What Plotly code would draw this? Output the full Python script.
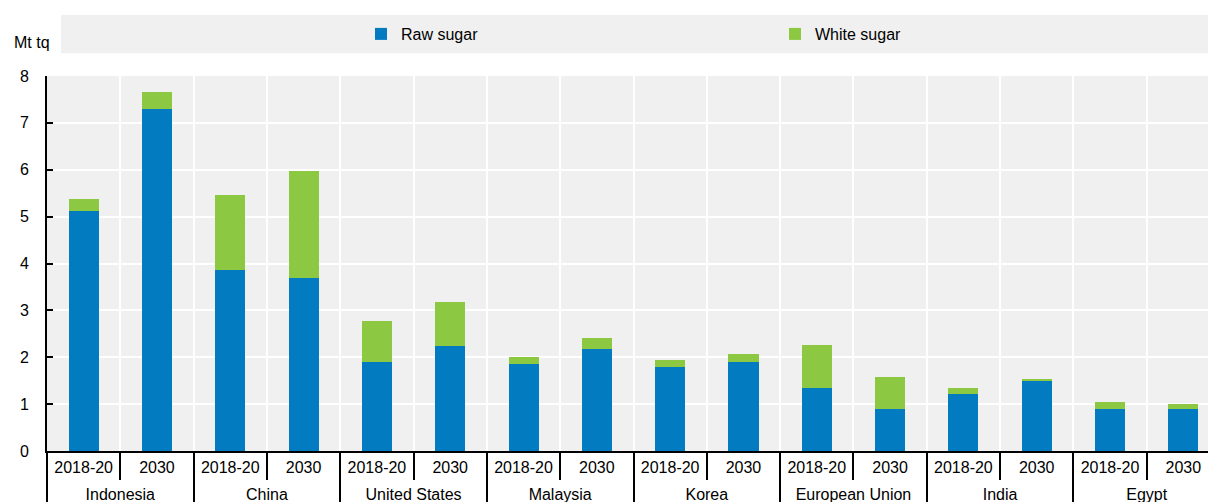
import plotly.graph_objects as go

countries = ["Indonesia", "China", "United States", "Malaysia", "Korea",
             "European Union", "India", "Egypt"]
periods = ["2018-20", "2030"]
raw_sugar = [5.12, 7.29, 3.86, 3.69, 1.90, 2.24, 1.85, 2.17,
             1.79, 1.90, 1.34, 0.90, 1.22, 1.51, 0.90, 0.90]
white_sugar = [0.25, 0.36, 1.60, 2.28, 0.87, 0.94, 0.15, 0.24,
               0.15, 0.17, 0.92, 0.68, 0.12, 0.01, 0.14, 0.10]

n_per = len(periods)
slots = list(range(len(raw_sugar)))
slot_labels = [p for _ in countries for p in periods]
country_mid = [i * n_per + (n_per - 1) / 2 for i in range(len(countries))]
x_range = [-0.5, len(slots) - 0.5]

BLUE = "#037BC1"
GREEN = "#8CC841"
FONT = "Liberation Sans, Arial, sans-serif"

fig = go.Figure()
fig.add_trace(go.Bar(x=slots, y=raw_sugar, name="Raw sugar",
                     marker=dict(color=BLUE, line=dict(width=0)), width=0.41))
fig.add_trace(go.Bar(x=slots, y=white_sugar, name="White sugar",
                     marker=dict(color=GREEN, line=dict(width=0)), width=0.41))
# empty trace so the country axis (x2) gets drawn
fig.add_trace(go.Scatter(x=[], y=[], xaxis="x2", yaxis="y",
                         showlegend=False, hoverinfo="skip"))

# the source chart runs a little past the right edge of the window
fig.update_layout(
    barmode="stack",
    width=1220,
    height=502,
    margin=dict(l=47, r=0, t=76, b=51, autoexpand=False),
    paper_bgcolor="white",
    plot_bgcolor="#F0F0F0",
    font=dict(family=FONT, size=16, color="black"),
    showlegend=True,
    legend=dict(
        orientation="h",
        x=0.2677, y=1.112, xanchor="left", yanchor="middle",
        bgcolor="rgba(0,0,0,0)",
        entrywidth=369, entrywidthmode="pixels",
        font=dict(size=16),
        traceorder="normal",
    ),
    shapes=[dict(type="rect", xref="paper", yref="paper",
                 x0=0.0119, x1=1.0, y0=1.061, y1=1.163,
                 fillcolor="#F0F0F0", line=dict(width=0), layer="below")],
    annotations=[dict(text="Mt tq", xref="paper", yref="paper",
                      x=-0.0298, y=1.088, xanchor="left", yanchor="middle",
                      showarrow=False, font=dict(size=16))],
    # period labels (inner row)
    xaxis=dict(
        range=x_range, automargin=False,
        tickmode="array", tickvals=slots, ticktext=slot_labels,
        ticks="", showgrid=False, zeroline=False,
        ticklabelstandoff=1,
        showline=True, linecolor="black", linewidth=2,
        tickfont=dict(size=16),
        minor=dict(tickmode="linear", tick0=-0.5, dtick=1,
                   ticks="outside", ticklen=27, tickwidth=2, tickcolor="black",
                   showgrid=True, gridcolor="white", gridwidth=2),
    ),
    # country labels (outer row)
    xaxis2=dict(
        overlaying="x", anchor="y", side="bottom",
        range=x_range, automargin=False,
        tickmode="array", tickvals=country_mid, ticktext=countries,
        ticks="", showgrid=False, zeroline=False, showline=False,
        ticklabelstandoff=32,
        tickfont=dict(size=16),
        minor=dict(tickmode="linear", tick0=-0.5, dtick=n_per,
                   ticks="outside", ticklen=60, tickwidth=2, tickcolor="black",
                   showgrid=False),
    ),
    yaxis=dict(
        range=[0, 8], dtick=1, automargin=False,
        showgrid=True, gridcolor="white", gridwidth=2,
        ticks="inside", ticklen=6, tickwidth=2, tickcolor="black",
        ticklabelstandoff=13,
        showline=True, linecolor="black", linewidth=2,
        zeroline=False,
        tickfont=dict(size=16),
    ),
)

fig.write_html(
    "out.html",
    config={"displayModeBar": False},
    post_script="document.body.style.margin='0';document.body.style.overflow='hidden';",
)
